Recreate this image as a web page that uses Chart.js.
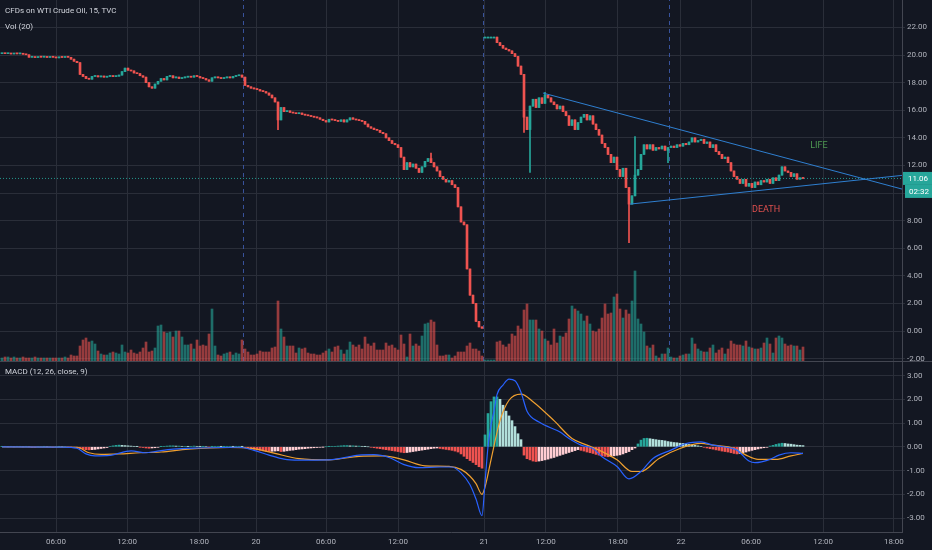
<!DOCTYPE html>
<html>
<head>
<meta charset="utf-8">
<script src="https://cdn.jsdelivr.net/npm/chart.js@4.4.1/dist/chart.umd.min.js"></script>
<style>
  body { margin: 0; background: #131722; }
  #wrap { position: relative; width: 932px; height: 550px; overflow: hidden; background: #131722; }
  canvas { position: absolute; left: 0; }
  .lbl { position: absolute; left: 5px; font: 8px Roboto, 'Liberation Sans', sans-serif;
         color: #d1d4dc; white-space: nowrap; line-height: 12px; }
</style>
</head>
<body>
<div id="wrap">
  <canvas id="priceChart" width="932" height="361" style="top:0"></canvas>
  <div style="position:absolute;left:0;top:361px;width:932px;height:1px;background:#434651"></div>
  <canvas id="macdChart" width="932" height="188" style="top:362px"></canvas>
  <div class="lbl" style="top:5px">CFDs on WTI Crude Oil, 15, TVC</div>
  <div class="lbl" style="top:21px">Vol (20)</div>
  <div class="lbl" style="top:366px">MACD (12, 26, close, 9)</div>
</div>
<script>
// 15 min closes, one per bar (bar 0 = far left)
const closes = [
  20.12, 20.10, 20.13, 20.08, 20.11, 20.09, 20.10, 20.06, 20.02,
  19.84, 19.86, 19.82, 19.88, 19.85, 19.87, 19.83, 19.86, 19.84, 19.80, 19.85, 19.83, 19.86, 19.84,
  19.70, 19.55, 19.45, 18.60,
  18.45, 18.30, 18.25, 18.45, 18.50, 18.42, 18.48, 18.40, 18.45, 18.50, 18.44, 18.47, 18.55,
  18.80, 19.05, 18.90,
  18.85, 18.70, 18.65, 18.50, 18.40,
  18.00, 17.70, 17.60,
  17.90, 18.10, 18.30, 18.20, 18.45, 18.50,
  18.35, 18.40, 18.30, 18.35, 18.40, 18.45, 18.40, 18.50, 18.45, 18.35, 18.30, 18.20, 18.10,
  18.35, 18.40, 18.35, 18.30, 18.35, 18.40, 18.35, 18.45, 18.50, 18.55,
  18.40, 17.80, 17.70, 17.60,
  17.55, 17.50, 17.40, 17.35, 17.25, 17.10, 16.90, 16.60, 15.30, 16.20,
  15.90, 15.95, 15.85, 15.80, 15.75, 15.80, 15.70, 15.65, 15.60, 15.55, 15.50, 15.45, 15.35, 15.25, 15.15,
  15.35, 15.30, 15.25, 15.20, 15.30, 15.15, 15.30, 15.45, 15.35, 15.30, 15.25, 15.20,
  15.00, 14.80, 14.70, 14.60, 14.55, 14.40, 14.30,
  14.00, 13.80, 13.60, 13.50, 13.30,
  12.60, 11.70,
  12.20, 11.90, 12.10, 11.80, 11.50, 11.90, 12.30,
  12.50, 12.20,
  11.90, 11.60, 11.20, 11.00, 10.80, 10.90, 10.60, 10.40,
  9.00, 7.90, 7.70, 4.50, 2.60, 2.00, 0.70, 0.30, 0.20,
  21.30, 21.30, 21.30, 21.30,
  20.90, 20.70, 20.50, 20.40, 20.30, 20.10, 19.90, 19.20, 18.60,
  15.50, 14.60, 16.30,
  16.80, 16.20, 16.90, 16.50, 17.10, 16.90, 16.60, 16.40, 16.10, 16.30, 15.90, 15.60,
  14.90, 15.30, 14.60, 15.10, 15.50, 15.70, 15.30, 15.60, 15.00, 14.60, 14.20, 13.60, 13.30, 12.80, 12.20, 12.60, 11.70, 11.20, 11.80,
  10.40, 9.20, 9.80, 11.30, 11.70, 12.80, 13.50, 13.20, 13.50, 13.10, 13.30, 13.20, 13.40, 13.10, 13.30,
  13.40, 13.30, 13.50, 13.40, 13.60, 13.50, 13.70, 14.00, 13.70, 13.80, 13.90, 13.60, 13.70, 13.30, 13.50, 13.00, 12.80, 12.50, 12.60, 12.20, 11.60, 11.20, 11.00,
  10.70, 11.00, 10.50, 10.70, 10.40, 10.80, 10.60, 10.90, 10.80, 11.00, 10.70, 11.10, 10.90, 11.30, 11.90, 11.60, 11.50, 11.20, 11.40, 11.00, 11.10, 11.06
];
// opens that are not the previous close (first bar, roll gap)
const openOverrides = { 0: 20.10, 161: 21.30 };
const wickHighs = { 143: 12.9, 181: 17.3, 211: 14.1 };
const wickLows = { 92: 14.6, 174: 14.4, 176: 11.5, 209: 6.4, 222: 12.2 };

// volume (hundreds of contracts)
const volumes = [
  3, 4, 4, 3, 4, 3, 3, 4, 3, 3, 3, 4, 3, 3, 3, 3, 3, 3, 3, 3, 3, 4, 3,
  6, 5, 5, 15,
  21, 23, 19, 20, 17, 10, 7, 6, 6, 8, 9, 8, 7, 16, 9, 8, 11, 8, 7, 9, 13, 19, 9, 10, 13, 35, 36, 29, 28, 29, 24, 30, 30, 24, 16, 16, 17, 12, 21, 15, 16, 15, 27,
  52, 15, 6, 5, 7, 8, 9, 6, 8, 7, 21, 12, 9, 6, 6, 7, 10, 9, 9, 9, 13, 14, 60,
  32, 24, 15, 15, 15, 8, 13, 12, 13, 8, 7, 7, 6, 6, 8, 10, 12, 9, 14, 15, 11, 7, 11, 19, 16, 14, 16, 12, 24, 17,
  15, 18, 11, 11, 11, 18, 15, 16, 13, 11, 26, 17, 4, 27, 15, 17, 15, 25, 37, 38, 41, 39, 16, 5, 5, 6, 6, 3, 5, 9,
  9, 9, 15, 18, 12, 12, 10,
  5,
  1, 1, 1, 1,
  19, 20, 16, 14, 17, 27, 25, 35, 32,
  51, 57, 41, 41, 41, 32, 30, 22, 20, 16, 32, 18, 25, 24, 28, 42, 55, 52, 50, 47, 40, 45, 37, 30, 29,
  32, 43, 57, 47, 48, 64, 67, 52, 43, 51, 47, 60, 90, 42, 37, 29, 15, 13, 16, 5, 3, 7, 7, 13, 4,
  3, 3, 5, 6, 7, 7, 23, 17, 12, 10, 9, 9, 13, 16, 8, 11, 13, 7, 12, 20, 17, 16, 16, 15, 20,
  14, 13, 12, 12, 13, 18, 23, 17, 8, 23, 25, 23, 17, 15, 16, 15, 15, 11, 14
];

// MACD histogram, one per bar
const histogram = [
  0.01, 0.01, 0.0, 0.01, 0.0, 0.01, 0.01, 0.0, 0.01, 0.0, -0.01, -0.01, 0.0, 0.0, 0.01, 0.0, 0.0, -0.01, 0.0, 0.01, 0.0, 0.0, -0.01, -0.01, -0.02,
  -0.04, -0.07, -0.1, -0.12, -0.13, -0.12, -0.11, -0.09, -0.07, -0.05, -0.03,
  0.02, 0.04, 0.06, 0.07, 0.06, 0.05, 0.04, 0.03, 0.02, 0.01, -0.01,
  -0.03, -0.05, -0.06, -0.05, -0.04, -0.02,
  0.01, 0.02, 0.03, 0.04, 0.04, 0.03, 0.03, 0.02, 0.02, 0.01, 0.02, 0.03, 0.02, 0.01, 0.01, 0.0, -0.01, 0.01, 0.02, 0.02, 0.01, 0.01, 0.02, 0.02, 0.01, 0.02, 0.02, 0.01,
  -0.03, -0.06, -0.09, -0.11, -0.13, -0.15, -0.17, -0.19, -0.2, -0.19, -0.18, -0.17, -0.2, -0.19, -0.17, -0.15, -0.14, -0.12,
  -0.1, -0.09, -0.08, -0.06, -0.05, -0.04, -0.03, -0.02, -0.01, 0.0, 0.01, 0.02, 0.02, 0.03,
  0.04, 0.05, 0.05, 0.04, 0.04, 0.03, 0.03, 0.02, 0.01, 0.0, -0.02, -0.04, -0.06,
  -0.08, -0.1, -0.12, -0.14, -0.16, -0.18, -0.2,
  -0.23, -0.25, -0.24, -0.22, -0.2, -0.18, -0.16, -0.14, -0.12, -0.1, -0.08, -0.06, -0.05,
  -0.07, -0.09, -0.11, -0.13, -0.15, -0.18, -0.22,
  -0.3, -0.4, -0.5, -0.58, -0.66, -0.75, -0.84, -0.9,
  0.5, 1.4, 1.9, 2.1, 2.1, 2.0, 1.75, 1.5, 1.3, 1.1, 0.85, 0.55, 0.3,
  -0.35, -0.5, -0.55, -0.6, -0.62, -0.6, -0.58, -0.55, -0.52, -0.48, -0.45, -0.4, -0.36, -0.32, -0.28, -0.24, -0.2, -0.16, -0.12,
  -0.15, -0.18, -0.22, -0.25, -0.28, -0.32, -0.35, -0.38, -0.4, -0.42, -0.4, -0.38, -0.36, -0.34, -0.3, -0.25, -0.2, -0.12, -0.05,
  0.12, 0.28, 0.35, 0.36, 0.34, 0.32, 0.3, 0.28, 0.27, 0.25, 0.22, 0.2, 0.18, 0.17, 0.15, 0.14, 0.12, 0.1, 0.08, 0.06, 0.04, 0.02,
  -0.02, -0.05, -0.08, -0.1, -0.13, -0.15, -0.18, -0.2, -0.22, -0.25, -0.28, -0.3, -0.28, -0.25, -0.22, -0.18, -0.15, -0.12, -0.09, -0.06, -0.04, -0.02,
  0.03, 0.06, 0.1, 0.13, 0.15, 0.14, 0.12, 0.11, 0.09, 0.07, 0.06, 0.05
];

// MACD and signal lines, read at turning points (bar index, value)
const macdIdx = [0, 20, 25, 28, 31, 36, 43, 48, 51, 57, 66, 79, 84, 89, 94, 99, 109, 119, 124, 129, 134, 139, 146, 150, 153, 156, 158, 160,
  161, 162, 163, 164, 165, 167, 169, 171, 173, 175, 179, 186, 189, 193, 197, 200, 205, 209, 213, 217, 223, 228, 233, 237, 242, 245, 249, 251, 256, 259, 263, 267];
const macdVal = [0, -0.01, -0.06, -0.3, -0.38, -0.36, -0.17, -0.25, -0.2, -0.1, -0.05, -0.02, -0.15, -0.35, -0.52, -0.56, -0.55, -0.35, -0.33, -0.45, -0.75, -0.88, -0.85, -0.85, -1.1, -1.6, -2.2, -2.9,
  -1.5, 0.0, 0.9, 1.5, 2.2, 2.6, 2.85, 2.78, 2.3, 1.5, 1.04, 0.62, 0.35, 0.07, -0.07, -0.42, -0.83, -1.35, -1.04, -0.49, -0.14, 0.14, 0.21, 0.07, -0.03, -0.14, -0.6, -0.67, -0.53, -0.35, -0.25, -0.28];
const signalIdx = [0, 25, 29, 33, 39, 46, 53, 62, 76, 84, 91, 99, 109, 119, 127, 134, 141, 149, 153, 156, 158, 160,
  161, 163, 166, 169, 173, 177, 184, 190, 195, 199, 205, 210, 213, 219, 226, 233, 237, 244, 248, 252, 258, 263, 267];
const signalVal = [0, -0.02, -0.25, -0.32, -0.3, -0.25, -0.22, -0.1, -0.03, -0.08, -0.28, -0.5, -0.55, -0.4, -0.38, -0.55, -0.8, -0.82, -0.95, -1.24, -1.55, -2.0,
  -1.7, -0.55, 1.1, 1.96, 2.22, 1.9, 1.1, 0.35, 0.07, -0.14, -0.55, -1.04, -1.04, -0.49, -0.07, 0.14, 0.07, -0.07, -0.35, -0.53, -0.53, -0.38, -0.28];

// time axis
const timeTicks = [18, 41.7, 65.7, 84.7, 108, 132, 160.7, 181.3, 205.3, 226.3, 249.7, 273.7, 297.3];
const timeLabels = ['06:00', '12:00', '18:00', '20', '06:00', '12:00', '21', '12:00', '18:00', '22', '06:00', '12:00', '18:00'];
const sessionBreaks = [80.5, 160.5, 222.5];

// drawings
const upperTrend = [[180.3, 17.25], [300, 10.29]];
const lowerTrend = [[209.3, 9.2], [300, 11.28]];
const lastPrice = 11.06;
const countdown = '02:32';
const notes = [
  { text: 'LIFE', bar: 272.3, price: 13.4, color: '#4e9a52' },
  { text: 'DEATH', bar: 254.7, price: 8.77, color: '#e0504f' }
];

const FONT = "Roboto, 'Liberation Sans', sans-serif";
Chart.defaults.font.family = FONT;
Chart.defaults.font.size = 8;
Chart.defaults.color = '#b2b5be';

const X_MIN = -0.67, X_MAX = 300;
const UP = '#26a69a', DOWN = '#ef5350';
const GRID = '#2a2e39', AXIS = '#434651';
const P_MIN = -2.17, P_MAX = 23.99;
const M_MIN = -3.587, M_MAX = 3.57;

const opens = closes.map((c, i) => (i in openOverrides) ? openOverrides[i] : closes[i - 1]);
const isUp = closes.map((c, i) => c >= opens[i]);
const highs = closes.map((c, i) => Math.max(c, opens[i], wickHighs[i] ?? -Infinity));
const lows = closes.map((c, i) => Math.min(c, opens[i], wickLows[i] ?? Infinity));

const histColors = histogram.map((h, i) => {
  const prev = i ? histogram[i - 1] : h;
  if (h >= 0) return h >= prev ? '#26a69a' : '#b2dfdb';
  return h <= prev ? '#ef5350' : '#ffcdd2';
});

function timeAxis(showLabels) {
  return {
    type: 'linear', min: X_MIN, max: X_MAX, offset: false,
    afterBuildTicks: s => { s.ticks = timeTicks.map(v => ({ value: v })); },
    afterFit: s => {
      if (showLabels) s.height = 18;
      s.paddingLeft = 0; s.paddingRight = 0;
    },
    ticks: { display: showLabels, autoSkip: false, maxRotation: 0, padding: 5,
             callback: (v, i) => timeLabels[i] },
    grid: { color: GRID, drawTicks: false, offset: false },
    border: { display: showLabels, color: AXIS }
  };
}

function valueAxis(min, max, step) {
  return {
    position: 'right', min: min, max: max,
    afterFit: s => { s.width = 30; s.paddingTop = 0; s.paddingBottom = 0; },
    ticks: { stepSize: step, includeBounds: false, padding: 2, callback: v => v.toFixed(2) },
    grid: { color: GRID, tickLength: 3 },
    border: { color: AXIS }
  };
}

const pricePlugin = {
  id: 'priceNotes',
  afterDraw(chart) {
    const ctx = chart.ctx, xs = chart.scales.x, ys = chart.scales.y;
    ctx.save();
    ctx.font = '9px ' + FONT;
    ctx.textAlign = 'center';
    ctx.textBaseline = 'middle';
    notes.forEach(n => {
      ctx.fillStyle = n.color;
      ctx.fillText(n.text, xs.getPixelForValue(n.bar), ys.getPixelForValue(n.price));
    });
    const y = ys.getPixelForValue(lastPrice);
    const x0 = chart.chartArea.right + 1;
    ctx.fillStyle = UP;
    ctx.fillRect(x0, y - 6.5, 30, 13);
    ctx.fillRect(x0 + 2, y + 6.5, 28, 13);
    ctx.font = '8px ' + FONT;
    ctx.fillStyle = '#ffffff';
    ctx.textAlign = 'left';
    ctx.fillText(lastPrice.toFixed(2), x0 + 5, y + 0.5);
    ctx.fillText(countdown, x0 + 6, y + 13.5);
    ctx.restore();
  }
};

new Chart(document.getElementById('priceChart'), {
  type: 'bar',
  data: {
    datasets: [
      { label: 'Vol', yAxisID: 'yv', grouped: false, barThickness: 2, order: 8,
        data: volumes.map((v, i) => ({ x: i, y: v })),
        backgroundColor: volumes.map((v, i) => isUp[i] ? 'rgba(38,166,154,0.6)' : 'rgba(239,83,80,0.6)') },
      { label: 'wick', yAxisID: 'y', grouped: false, barThickness: 1, order: 4,
        data: closes.map((c, i) => ({ x: i, y: [lows[i], highs[i]] })),
        backgroundColor: isUp.map(u => u ? UP : DOWN) },
      { label: 'body', yAxisID: 'y', grouped: false, barThickness: 2, minBarLength: 1, order: 3,
        data: closes.map((c, i) => ({ x: i, y: [opens[i], c] })),
        backgroundColor: isUp.map(u => u ? UP : DOWN) },
      { type: 'line', yAxisID: 'y', order: 2, pointRadius: 0, borderWidth: 1, borderDash: [1, 2],
        borderColor: 'rgba(38,166,154,0.9)',
        data: [{ x: X_MIN, y: lastPrice }, { x: X_MAX, y: lastPrice }] },
      { type: 'line', yAxisID: 'y', order: 1, pointRadius: 0, borderWidth: 1, borderColor: '#2f7fd0',
        data: upperTrend.map(p => ({ x: p[0], y: p[1] })) },
      { type: 'line', yAxisID: 'y', order: 1, pointRadius: 0, borderWidth: 1, borderColor: '#2f7fd0',
        data: lowerTrend.map(p => ({ x: p[0], y: p[1] })) },
      ...sessionBreaks.map(b => ({
        type: 'line', yAxisID: 'y', data: [{ x: b, y: P_MIN }, { x: b, y: P_MAX }],
        borderColor: 'rgba(61,90,170,0.9)', borderWidth: 1, borderDash: [4, 4],
        pointRadius: 0, order: 9
      }))
    ]
  },
  options: {
    responsive: false, animation: false, devicePixelRatio: 1, events: [],
    layout: { padding: 0 },
    plugins: { legend: { display: false }, tooltip: { enabled: false } },
    scales: {
      x: timeAxis(false),
      y: valueAxis(P_MIN, P_MAX, 2),
      yv: { display: false, position: 'left', min: 0, max: 361 }
    }
  },
  plugins: [pricePlugin]
});

new Chart(document.getElementById('macdChart'), {
  type: 'bar',
  data: {
    datasets: [
      { label: 'Histogram', grouped: false, barThickness: 2, order: 3,
        data: histogram.map((h, i) => ({ x: i, y: h })), backgroundColor: histColors },
      { type: 'line', label: 'MACD', order: 1, pointRadius: 0, borderWidth: 1.2, borderColor: '#2962ff',
        cubicInterpolationMode: 'monotone',
        data: macdIdx.map((x, i) => ({ x: x, y: macdVal[i] })) },
      { type: 'line', label: 'Signal', order: 2, pointRadius: 0, borderWidth: 1.2, borderColor: '#f0a030',
        cubicInterpolationMode: 'monotone',
        data: signalIdx.map((x, i) => ({ x: x, y: signalVal[i] })) }
    ]
  },
  options: {
    responsive: false, animation: false, devicePixelRatio: 1, events: [],
    layout: { padding: 0 },
    plugins: { legend: { display: false }, tooltip: { enabled: false } },
    scales: {
      x: timeAxis(true),
      y: valueAxis(M_MIN, M_MAX, 1)
    }
  }
});
</script>
</body>
</html>
